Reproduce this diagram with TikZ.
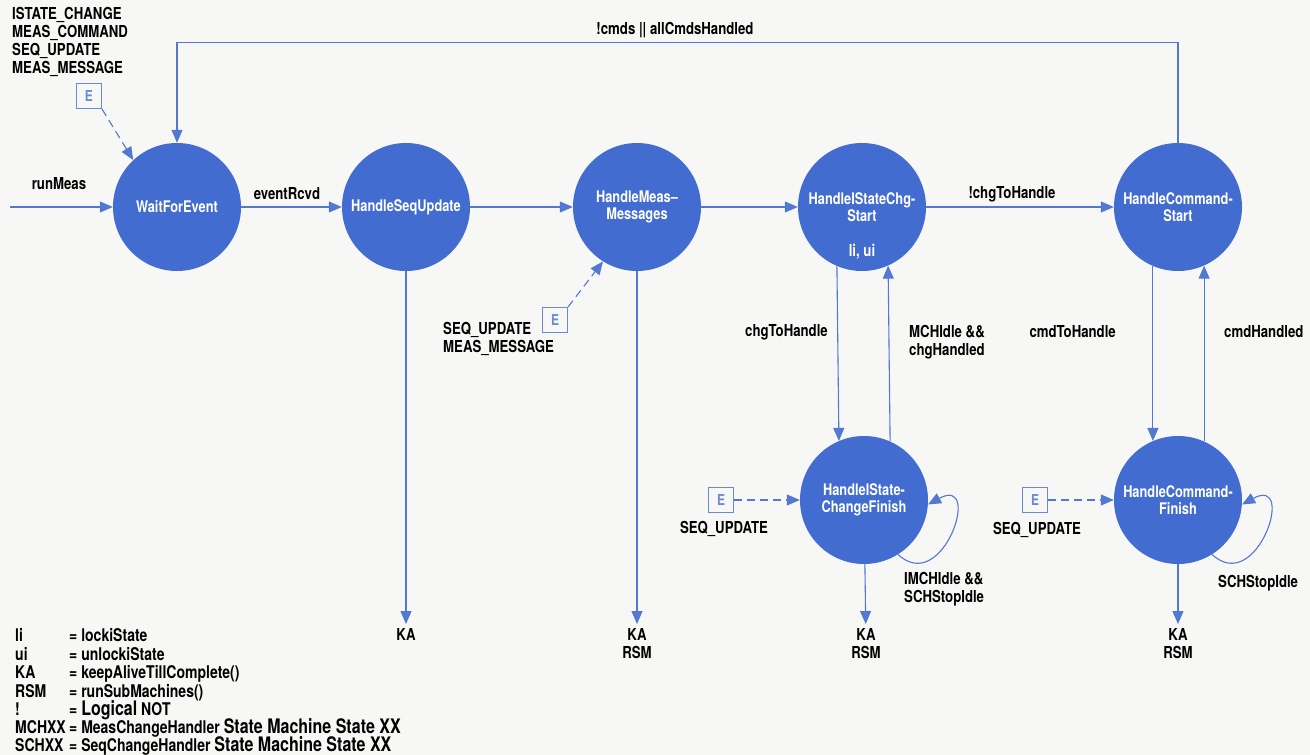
\documentclass[tikz,border=0pt]{standalone}
\usepackage{fontspec}
\setmainfont{TeX Gyre Heros}[FakeStretch=0.8]
\usetikzlibrary{arrows.meta}
\definecolor{stateblue}{RGB}{66,108,208}
\definecolor{lineblue}{RGB}{82,120,210}
\definecolor{eblue}{RGB}{108,138,212}
\definecolor{paper}{RGB}{247,247,245}

\begin{document}
\begin{tikzpicture}[x=1pt,y=-1pt,
  font=\fontsize{16.5}{18}\selectfont\bfseries,
  state/.style={circle, fill=stateblue, minimum size=128pt, inner sep=0pt,
    text=white, align=center, font=\fontsize{16}{17.5}\selectfont\bfseries},
  flow/.style={draw=lineblue, line width=1.1pt, -{Triangle[length=13pt,width=11pt]}},
  evt/.style={flow, dash pattern=on 8pt off 5pt},
  ebox/.style={draw=eblue, line width=1pt, minimum size=25pt, inner sep=0pt,
    text=eblue, fill=paper, font=\fontsize{15}{15}\selectfont\bfseries},
  lbl/.style={text=black, align=left, inner sep=0pt},
  kalbl/.style={text=black, align=center, inner sep=4pt, anchor=north},
  legend/.style={text=black, inner sep=0pt, anchor=base west,
    font=\fontsize{17.5}{18}\selectfont\bfseries},
  legbig/.style={font=\fontsize{21}{21}\selectfont\bfseries},
]
% paper and page size
\fill[paper] (0,0) rectangle (1310,755);
\useasboundingbox (0,0) rectangle (1310,755);

% states
\node[state] (wait)  at (177,207) {WaitForEvent};
\node[state] (seq)   at (406,207) {HandleSeqUpdate};
\node[state] (meas)  at (637,207) {HandleMeas--\\Messages};
\node[state] (ichgS) at (862,207) {HandleIStateChg-\\Start};
\node[text=white, inner sep=0pt] (lockui) at (862,252) {li, ui};
\node[state] (cmdS)  at (1178,207) {HandleCommand-\\Start};
\node[state] (ichgF) at (864,500) {HandleIState-\\ChangeFinish};
\node[state] (cmdF)  at (1178,500) {HandleCommand-\\Finish};

% entry
\coordinate (runIn) at (10,207);
\node[lbl] (runL) at (59,184) {runMeas};
\draw[flow] (runIn) -- (wait);

% main chain
\draw[flow] (wait) -- (seq);
\node[lbl] (evL) at (287,194) {eventRcvd};
\draw[flow] (seq) -- (meas);
\draw[flow] (meas) -- (ichgS);
\draw[flow] (ichgS) -- (cmdS);
\node[lbl] (nchgL) at (1012,194) {!chgToHandle};

% return to waiting
\draw[flow] (cmdS.north) -- ++(0,-100) -| (wait.north);
\node[lbl] (retL) at (675,30) {!cmds || allCmdsHandled};

% state change sub-loop
\draw[flow] (ichgS.-113) -- (ichgF.113);
\draw[flow] (ichgF.66) -- (ichgS.-66);
\node[lbl, anchor=east] (chgL) at (828,332) {chgToHandle};
\node[lbl, anchor=west] (chgDoneL) at (909,342) {MCHIdle \&\&\\chgHandled};
\draw[flow] (ichgF.-58) .. controls +(45,42) and +(55,-30) .. (ichgF.-4);
\node[lbl, anchor=west] (ichgLoopL) at (904,589) {IMCHIdle \&\&\\SCHStopIdle};

% command sub-loop
\draw[flow] (cmdS.-113) -- (cmdF.113);
\draw[flow] (cmdF.66) -- (cmdS.-66);
\node[lbl, anchor=east] (cmdL) at (1116,332) {cmdToHandle};
\node[lbl, anchor=west] (cmdDoneL) at (1224,332) {cmdHandled};
\draw[flow] (cmdF.-58) .. controls +(45,42) and +(55,-30) .. (cmdF.-4);
\node[lbl, anchor=west] (cmdLoopL) at (1218,583) {SCHStopIdle};

% events
\node[ebox] (e1) at (89,96) {E};
\draw[evt] (e1.south east) -- (wait.133);
\node[lbl, anchor=north west] (e1L) at (12,7)
  {ISTATE\_CHANGE\\MEAS\_COMMAND\\SEQ\_UPDATE\\MEAS\_MESSAGE};

\node[ebox] (e2) at (555,320) {E};
\draw[evt] (e2.north east) -- (meas.-122);
\node[lbl, anchor=west] (e2L) at (443,339) {SEQ\_UPDATE\\MEAS\_MESSAGE};

\node[ebox] (e3) at (721,500) {E};
\draw[evt] (e3) -- (ichgF);
\node[lbl] (e3L) at (724,529) {SEQ\_UPDATE};

\node[ebox] (e4) at (1035,500) {E};
\draw[evt] (e4) -- (cmdF);
\node[lbl] (e4L) at (1037,530) {SEQ\_UPDATE};

% keep-alive actions
\node[kalbl] (ka1) at (406,624) {KA};
\draw[flow] (seq) -- (ka1);
\node[kalbl] (ka2) at (637,624) {KA\\RSM};
\draw[flow] (meas) -- (ka2);
\node[kalbl] (ka3) at (866,624) {KA\\RSM};
\draw[flow] (ichgF) -- (ka3);
\node[kalbl] (ka4) at (1178,624) {KA\\RSM};
\draw[flow] (cmdF) -- (ka4);

% legend
\node[legend] (k1) at (15,641) {li};    \node[legend] (v1) at (69,641) {= lockiState};
\node[legend] (k2) at (15,660) {ui};    \node[legend] (v2) at (69,660) {= unlockiState};
\node[legend] (k3) at (15,678) {KA};    \node[legend] (v3) at (69,678) {= keepAliveTillComplete()};
\node[legend] (k4) at (15,697) {RSM};   \node[legend] (v4) at (69,697) {= runSubMachines()};
\node[legend] (k5) at (15,715) {!};     \node[legend] (v5) at (69,715) {= {\fontsize{20}{20}\selectfont Logical} NOT};
\node[legend] (k6) at (15,733) {MCHXX}; \node[legend] (v6) at (69,733) {= MeasChangeHandler {\fontsize{20}{20}\selectfont State Machine State XX}};
\node[legend] (k7) at (15,751) {SCHXX}; \node[legend] (v7) at (69,751) {= SeqChangeHandler {\fontsize{20}{20}\selectfont State Machine State XX}};
\end{tikzpicture}
\end{document}
